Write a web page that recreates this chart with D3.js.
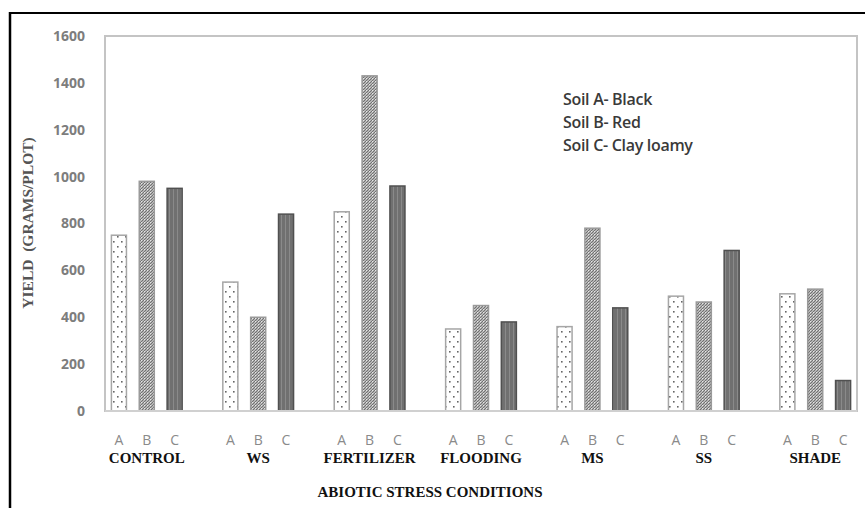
<!DOCTYPE html>
<html>
<head>
<meta charset="utf-8">
<script src="https://cdn.jsdelivr.net/npm/d3@7"></script>
<style>
  body { margin: 0; background: #fff; }
  svg { display: block; }
</style>
</head>
<body>
<div id="chart"></div>
<script>
// data
let groups = ['CONTROL', 'WS', 'FERTILIZER', 'FLOODING', 'MS', 'SS', 'SHADE'];
let soils = ['A', 'B', 'C'];
let soilA = [750, 550, 850, 350, 360, 490, 500];
let soilB = [980, 400, 1430, 450, 780, 465, 520];
let soilC = [950, 840, 960, 380, 440, 685, 130];
let yTicks = [0, 200, 400, 600, 800, 1000, 1200, 1400, 1600];
let legendLines = ['Soil A- Black', 'Soil B- Red', 'Soil C- Clay loamy'];

let chart_width = 865;
let chart_height = 508;
let plot = {left: 105, right: 857, top: 36, bottom: 411};

let svg = d3.select('#chart')
            .append('svg')
            .attr('width', chart_width)
            .attr('height', chart_height);

// patterns
let defs = svg.append('defs');

let pA = defs.append('pattern')
  .attr('id', 'patA').attr('patternUnits', 'userSpaceOnUse')
  .attr('width', 8).attr('height', 10);
pA.append('rect').attr('width', 8).attr('height', 10).attr('fill', '#fff');
pA.append('rect').attr('x', 1).attr('y', 1).attr('width', 1.6).attr('height', 1.6).attr('fill', '#666');
pA.append('rect').attr('x', 5).attr('y', 6).attr('width', 1.6).attr('height', 1.6).attr('fill', '#666');

let pB = defs.append('pattern')
  .attr('id', 'patB').attr('patternUnits', 'userSpaceOnUse')
  .attr('width', 3).attr('height', 3);
pB.append('rect').attr('width', 3).attr('height', 3).attr('fill', '#b5b5b5');
pB.append('path').attr('d', 'M0,3 L3,0 M-1,1 L1,-1 M2,4 L4,2')
  .attr('stroke', '#6a6a6a').attr('stroke-width', 0.9);
pB.append('rect').attr('x', 0).attr('y', 0).attr('width', 1).attr('height', 1).attr('fill', '#e6e6e6');

let pC = defs.append('pattern')
  .attr('id', 'patC').attr('patternUnits', 'userSpaceOnUse')
  .attr('width', 4).attr('height', 4);
pC.append('rect').attr('width', 4).attr('height', 4).attr('fill', '#707070');
pC.append('rect').attr('x', 1).attr('width', 1).attr('height', 4).attr('fill', '#8a8a8a');

let fills = {A: 'url(#patA)', B: 'url(#patB)', C: 'url(#patC)'};
let strokes = {A: '#a6a6a6', B: '#9a9a9a', C: '#505050'};

// outer frame (top + left black lines)
svg.append('line').attr('x1', 10).attr('x2', 865).attr('y1', 13).attr('y2', 13)
  .attr('stroke', '#000').attr('stroke-width', 2);
svg.append('line').attr('x1', 10).attr('x2', 10).attr('y1', 12).attr('y2', 508)
  .attr('stroke', '#000').attr('stroke-width', 2.5);

// slots: each soil its own slot, empty slot between groups
let slots = [];
let bars = [];
groups.forEach((g, i) => {
  soils.forEach(s => slots.push(g + '|' + s));
  if (i < groups.length - 1) slots.push(g + '|gap');
  bars.push({group: g, soil: 'A', value: soilA[i]});
  bars.push({group: g, soil: 'B', value: soilB[i]});
  bars.push({group: g, soil: 'C', value: soilC[i]});
});

let x_scale = d3.scaleBand()
  .domain(slots)
  .range([plot.left, plot.right])
  .paddingInner(0.46)
  .paddingOuter(0.23);

let y_scale = d3.scaleLinear()
  .domain([0, 1600])
  .range([plot.bottom, plot.top]);

// plot frame
svg.append('rect')
  .attr('x', plot.left).attr('y', plot.top)
  .attr('width', plot.right - plot.left).attr('height', plot.bottom - plot.top)
  .attr('fill', 'none').attr('stroke', '#c4c4c4').attr('stroke-width', 2);

// y axis labels
let y_axis = d3.axisLeft(y_scale).tickValues(yTicks).tickFormat(d3.format('d'))
  .tickSize(0).tickPadding(20);
let yg = svg.append('g')
  .attr('transform', 'translate(' + plot.left + ',0)')
  .call(y_axis);
yg.select('.domain').remove();
yg.selectAll('text')
  .attr('font-family', '"Open Sans", sans-serif')
  .attr('font-weight', 'bold')
  .attr('font-size', 14)
  .attr('fill', '#7d7d7d');

// bars
svg.selectAll('rect.bar')
  .data(bars)
  .enter()
  .append('rect')
  .attr('class', 'bar')
  .attr('x', d => x_scale(d.group + '|' + d.soil))
  .attr('y', d => y_scale(d.value))
  .attr('width', x_scale.bandwidth())
  .attr('height', d => y_scale(0) - y_scale(d.value))
  .attr('fill', d => fills[d.soil])
  .attr('stroke', d => strokes[d.soil])
  .attr('stroke-width', 1.5);

// baseline
svg.append('line')
  .attr('x1', plot.left).attr('x2', plot.right)
  .attr('y1', plot.bottom).attr('y2', plot.bottom)
  .attr('stroke', '#d0d0d0').attr('stroke-width', 2);

// soil letters
svg.selectAll('text.soil')
  .data(bars)
  .enter()
  .append('text')
  .attr('class', 'soil')
  .attr('x', d => x_scale(d.group + '|' + d.soil) + x_scale.bandwidth() / 2)
  .attr('y', 445)
  .attr('text-anchor', 'middle')
  .attr('font-family', '"Open Sans", sans-serif')
  .attr('font-size', 14)
  .attr('fill', '#8a8a8a')
  .text(d => d.soil);

// group names
svg.selectAll('text.group')
  .data(groups)
  .enter()
  .append('text')
  .attr('class', 'group')
  .attr('x', g => x_scale(g + '|B') + x_scale.bandwidth() / 2)
  .attr('y', 463)
  .attr('text-anchor', 'middle')
  .attr('font-family', '"Liberation Serif", "Times New Roman", serif')
  .attr('font-weight', 'bold')
  .attr('font-size', 15)
  .attr('fill', '#111')
  .text(g => g);

// axis titles
svg.append('text')
  .attr('x', 430).attr('y', 497)
  .attr('text-anchor', 'middle')
  .attr('font-family', '"Liberation Serif", "Times New Roman", serif')
  .attr('font-weight', 'bold')
  .attr('font-size', 15)
  .attr('fill', '#111')
  .text('ABIOTIC STRESS CONDITIONS');

svg.append('text')
  .attr('transform', 'translate(33,223) rotate(-90)')
  .attr('text-anchor', 'middle')
  .attr('font-family', '"Liberation Serif", "Times New Roman", serif')
  .attr('font-weight', 'bold')
  .attr('font-size', 15.5)
  .attr('fill', '#555')
  .attr('xml:space', 'preserve')
  .text('YIELD  (GRAMS/PLOT)');

// legend text
svg.selectAll('text.legend')
  .data(legendLines)
  .enter()
  .append('text')
  .attr('class', 'legend')
  .attr('x', 563)
  .attr('y', (d, i) => 105 + i * 23)
  .attr('font-family', '"Open Sans", sans-serif')
  .attr('font-weight', 600)
  .attr('font-size', 16)
  .attr('fill', '#3a3a3a')
  .attr('letter-spacing', -0.3)
  .text(d => d);
</script>
</body>
</html>
